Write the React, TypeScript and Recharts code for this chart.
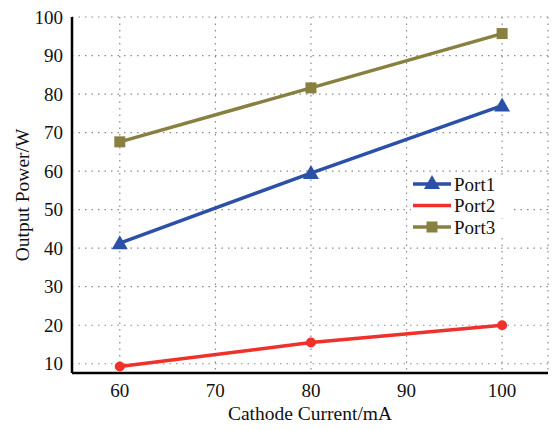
import React from 'react';
import { LineChart, Line, XAxis, YAxis, CartesianGrid } from 'recharts';

const currents = [60, 80, 100];
const port1 = [41.3, 59.5, 77.0];
const port2 = [9.3, 15.5, 20.0];
const port3 = [67.6, 81.6, 95.7];
const xTicks = [60, 70, 80, 90, 100];
const yTicks = [10, 20, 30, 40, 50, 60, 70, 80, 90, 100];

const seriesNames = ['Port1', 'Port2', 'Port3'];
const colors = ['#2b50a8', '#f0302b', '#878040'];

const data = currents.map((c, i) => ({ x: c, Port1: port1[i], Port2: port2[i], Port3: port3[i] }));

const FONT = 'Liberation Serif, Times New Roman, serif';

function Marker({ kind, cx, cy, color }: { kind: number; cx: number; cy: number; color: string }) {
  if (kind === 0) {
    const s = 8;
    return <path d={`M${cx},${cy - s} L${cx + s},${cy + s * 0.75} L${cx - s},${cy + s * 0.75} Z`} fill={color} />;
  }
  if (kind === 1) {
    return <circle cx={cx} cy={cy} r={5} fill={color} />;
  }
  return <rect x={cx - 5.5} y={cy - 5.5} width={11} height={11} fill={color} />;
}

const makeDot = (kind: number) => (props: any) => {
  const { cx, cy, index } = props;
  if (cx == null || cy == null) return <g key={index} />;
  return <Marker key={index} kind={kind} cx={cx} cy={cy} color={colors[kind]} />;
};

const XTick = (props: any) => {
  const { x, y, payload } = props;
  return (
    <text x={x} y={y + 14} textAnchor="middle" style={{ fontFamily: FONT, fontSize: 19 }} fill="#111">
      {payload.value}
    </text>
  );
};

const YTick = (props: any) => {
  const { x, y, payload } = props;
  return (
    <text x={x + 2} y={y + 6.5} textAnchor="end" style={{ fontFamily: FONT, fontSize: 19 }} fill="#111">
      {payload.value}
    </text>
  );
};

function LegendBox() {
  return (
    <svg width={110} height={70} style={{ overflow: 'visible', display: 'block' }}>
      {seriesNames.map((n, i) => {
        const y = 10 + i * 21.5;
        return (
          <g key={n}>
            <rect x={0} y={y - 8} width={100} height={18} fill="#fff" />
            <line x1={2} x2={40} y1={y} y2={y} stroke={colors[i]} strokeWidth={3.5} />
            {i !== 1 && <Marker kind={i} cx={21} cy={i === 0 ? y - 1 : y} color={colors[i]} />}
            <text x={43} y={y + 6.5} style={{ fontFamily: FONT, fontSize: 19 }} fill="#111">{n}</text>
          </g>
        );
      })}
    </svg>
  );
}

export default function App() {
  return (
    <div style={{ position: 'absolute', left: 0, top: 0, width: 552, height: 430, background: '#fff', fontFamily: FONT }}>
      <LineChart width={552} height={430} data={data} margin={{ top: 17, right: 4, left: 0, bottom: 0 }}>
        <CartesianGrid stroke="#8a8a8a" strokeDasharray="1.5 5" strokeWidth={1.2} />
        <XAxis
          dataKey="x"
          type="number"
          domain={[55, 104.8]}
          ticks={xTicks}
          tickLine={false}
          axisLine={{ stroke: '#000', strokeWidth: 2.5 }}
          height={57}
          tick={<XTick />}
          tickMargin={4}
          label={{ value: 'Cathode Current/mA', position: 'insideBottom', offset: 10, style: { fontFamily: FONT, fontSize: 19.5 }, fill: '#111' }}
        />
        <XAxis
          xAxisId="top"
          orientation="top"
          type="number"
          domain={[55, 104.8]}
          tick={false}
          tickLine={false}
          height={0}
          axisLine={{ stroke: '#000', strokeWidth: 2.5 }}
        />
        <YAxis
          type="number"
          domain={[7.6, 100]}
          ticks={yTicks}
          tickLine={false}
          axisLine={{ stroke: '#000', strokeWidth: 2.5 }}
          width={72}
          interval={0}
          tick={<YTick />}
          tickMargin={5}
          label={{ value: 'Output Power/W', angle: -90, position: 'insideLeft', offset: 22, style: { textAnchor: 'middle', fontFamily: FONT, fontSize: 19.5 }, fill: '#111' }}
        />
        <YAxis
          yAxisId="right"
          orientation="right"
          type="number"
          domain={[7.6, 100]}
          tick={false}
          tickLine={false}
          width={0}
          axisLine={{ stroke: '#000', strokeWidth: 2.5 }}
        />
        {seriesNames.map((n, i) => (
          <Line
            key={n}
            dataKey={n}
            stroke={colors[i]}
            strokeWidth={3.5}
            dot={makeDot(i)}
            activeDot={false}
            isAnimationActive={false}
          />
        ))}
      </LineChart>
      <div style={{ position: 'absolute', left: 411, top: 174 }}>
        <LegendBox />
      </div>
    </div>
  );
}
